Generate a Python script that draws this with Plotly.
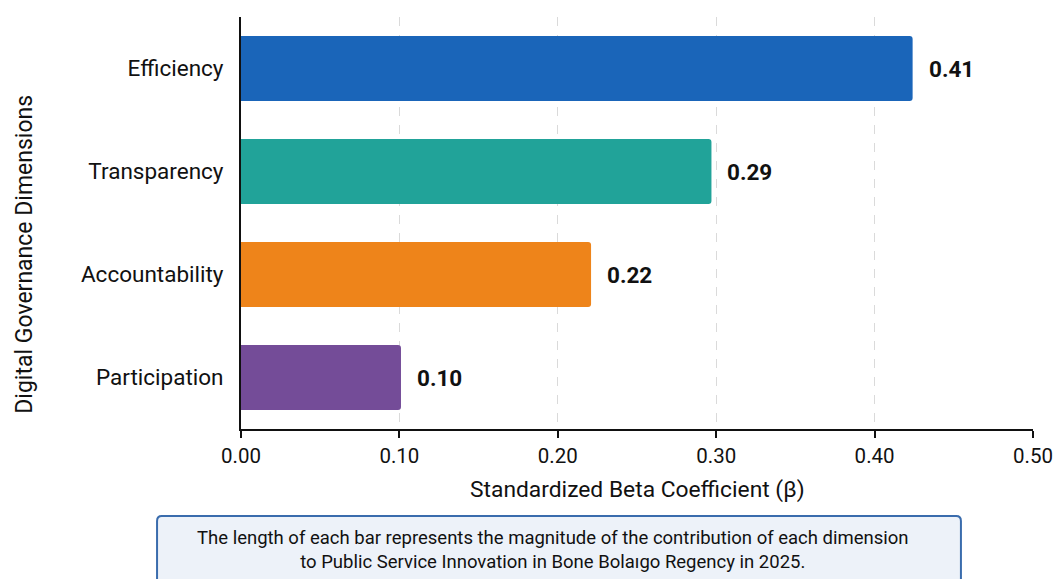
import plotly.graph_objects as go

categories = ["Efficiency", "Transparency", "Accountability", "Participation"]
beta_values = [0.424, 0.297, 0.221, 0.101]
value_labels = ["0.41", "0.29", "0.22", "0.10"]
bar_colors = ["#1a65b9", "#21a399", "#ee841a", "#744c98"]
tick_vals = [0.0, 0.1, 0.2, 0.3, 0.4, 0.5]
tick_text = ["0.00", "0.10", "0.20", "0.30", "0.40", "0.50"]
x_title = "Standardized Beta Coefficient (β)"
y_title = "Digital Governance Dimensions"
note_text = ("The length of each bar represents the magnitude of the contribution of each dimension<br>"
             "to Public Service Innovation in Bone Bolaıgo Regency in 2025.")

FONT = "Roboto, Liberation Sans, Arial, sans-serif"
INK = "#111111"

fig = go.Figure()
fig.add_trace(go.Bar(
    y=categories,
    x=beta_values,
    orientation="h",
    marker=dict(color=bar_colors, line=dict(width=0), cornerradius=3),
    hoverinfo="skip",
))

for cat, val, lab in zip(categories, beta_values, value_labels):
    fig.add_annotation(x=val, y=cat, xref="x", yref="y", text=lab,
                       xanchor="left", yanchor="middle", xshift=14, showarrow=False,
                       font=dict(family=FONT, size=22.5, color=INK, weight="bold"))

fig.update_layout(
    width=1053, height=571,
    margin=dict(l=233, r=28, t=9, b=150),
    paper_bgcolor="white",
    plot_bgcolor="white",
    bargap=0.37,
    showlegend=False,
    font=dict(family=FONT, color=INK),
)

fig.update_xaxes(
    range=[0, 0.5],
    tickvals=tick_vals,
    ticktext=tick_text,
    tickfont=dict(family=FONT, size=20.5, color=INK),
    showline=True, linecolor=INK, linewidth=2,
    ticks="outside", ticklen=7, tickwidth=1.5, tickcolor=INK,
    showgrid=True, gridcolor="#dadada", griddash="dash", gridwidth=1,
    zeroline=False, automargin=False,
)

fig.update_yaxes(
    categoryorder="array",
    categoryarray=categories[::-1],
    tickfont=dict(family=FONT, size=22.5, color=INK),
    showline=True, linecolor=INK, linewidth=2,
    ticks="", ticklen=0,
    showgrid=False, zeroline=False, automargin=False,
    ticklabelstandoff=11,
)

fig.add_annotation(text=x_title, xref="paper", yref="paper", x=0.5, y=-0.146,
                   xanchor="center", yanchor="middle", showarrow=False,
                   font=dict(family=FONT, size=22.8, color=INK))
fig.add_annotation(text=y_title, xref="paper", yref="paper", x=-0.2727, y=0.423,
                   xanchor="center", yanchor="middle", showarrow=False, textangle=-90,
                   font=dict(family=FONT, size=23, color=INK))

# rounded note box in paper coordinates
x0, x1 = -0.106, 0.909
y0, y1 = -0.40, -0.2112
rx, ry = 0.006, 0.012
path = (f"M {x0+rx},{y1} L {x1-rx},{y1} Q {x1},{y1} {x1},{y1-ry} "
        f"L {x1},{y0+ry} Q {x1},{y0} {x1-rx},{y0} L {x0+rx},{y0} "
        f"Q {x0},{y0} {x0},{y0+ry} L {x0},{y1-ry} Q {x0},{y1} {x0+rx},{y1} Z")
fig.add_shape(type="path", path=path, xref="paper", yref="paper",
              fillcolor="#edf2f9", line=dict(color="#3a6cad", width=2), layer="below")

fig.add_annotation(
    text=note_text, xref="paper", yref="paper",
    x=0.394, y=-0.2937, xanchor="center", yanchor="middle",
    showarrow=False, align="center",
    font=dict(family=FONT, size=18.5, color=INK),
)

fig.write_html("out.html")
